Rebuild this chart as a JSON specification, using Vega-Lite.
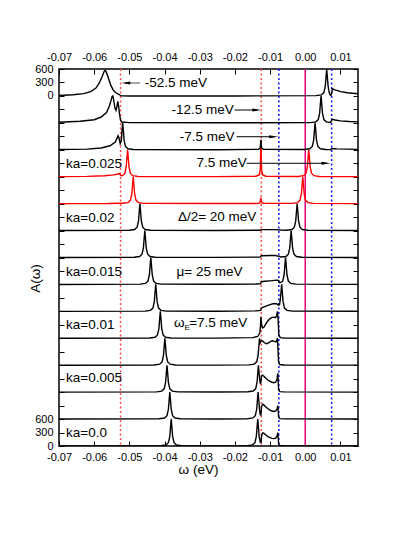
{
  "$schema": "https://vega.github.io/schema/vega-lite/v6.json",
  "width": 299,
  "height": 377,
  "autosize": {"type": "none"},
  "padding": {"left": 59, "top": 69, "right": 57, "bottom": 108},
  "config": {
    "font": "Liberation Sans",
    "view": {"stroke": "black", "strokeWidth": 1.5},
    "axis": {"grid": false, "domain": false, "tickColor": "black", "tickWidth": 1, "labelColor": "black", "labelFont": "Liberation Sans", "labelFontSize": 11, "labelOverlap": false, "labelFlush": false, "titleFont": "Liberation Sans", "titleFontSize": 13.5, "titleFontWeight": "normal", "titleColor": "black"}
  },
  "datasets": {
    "curves": [
      {"k":0,"x":-0.07,"y":0},
      {"k":0,"x":-0.0411,"y":6},{"k":0,"x":-0.0396,"y":23},{"k":0,"x":-0.0389,"y":74},{"k":0,"x":-0.0385,"y":216},{"k":0,"x":-0.0383,"y":415},{"k":0,"x":-0.0381,"y":600},{"k":0,"x":-0.0379,"y":415},{"k":0,"x":-0.0377,"y":216},{"k":0,"x":-0.0373,"y":74},{"k":0,"x":-0.0366,"y":23},{"k":0,"x":-0.0351,"y":6},
      {"k":0,"x":-0.025,"y":2},
      {"k":0,"x":-0.0165,"y":8},{"k":0,"x":-0.015,"y":25},{"k":0,"x":-0.0143,"y":74},{"k":0,"x":-0.0139,"y":216},{"k":0,"x":-0.0137,"y":415},{"k":0,"x":-0.0135,"y":600},{"k":0,"x":-0.0133,"y":415},{"k":0,"x":-0.0131,"y":216},{"k":0,"x":-0.0128,"y":90},
      {"k":0,"x":-0.01255,"y":80},{"k":0,"x":-0.0124,"y":230},{"k":0,"x":-0.0121,"y":290},{"k":0,"x":-0.0117,"y":280},{"k":0,"x":-0.0112,"y":245},{"k":0,"x":-0.0106,"y":210},{"k":0,"x":-0.01,"y":185},{"k":0,"x":-0.0094,"y":170},{"k":0,"x":-0.0089,"y":165},{"k":0,"x":-0.0084,"y":175},{"k":0,"x":-0.008,"y":220},{"k":0,"x":-0.0078,"y":300},{"k":0,"x":-0.0077,"y":200},{"k":0,"x":-0.00755,"y":40},{"k":0,"x":-0.0072,"y":10},{"k":0,"x":-0.006,"y":4},{"k":0,"x":0.015,"y":1},

      {"k":1,"x":-0.07,"y":600},
      {"k":1,"x":-0.0415,"y":606},{"k":1,"x":-0.04,"y":623},{"k":1,"x":-0.0393,"y":674},{"k":1,"x":-0.0389,"y":816},{"k":1,"x":-0.0387,"y":1015},{"k":1,"x":-0.0385,"y":1200},{"k":1,"x":-0.0383,"y":1015},{"k":1,"x":-0.0381,"y":816},{"k":1,"x":-0.0377,"y":674},{"k":1,"x":-0.037,"y":623},{"k":1,"x":-0.0355,"y":606},
      {"k":1,"x":-0.025,"y":602},
      {"k":1,"x":-0.0164,"y":608},{"k":1,"x":-0.0149,"y":625},{"k":1,"x":-0.0142,"y":674},{"k":1,"x":-0.0138,"y":816},{"k":1,"x":-0.0136,"y":1015},{"k":1,"x":-0.0134,"y":1200},{"k":1,"x":-0.0132,"y":1015},{"k":1,"x":-0.013,"y":816},{"k":1,"x":-0.0128,"y":700},
      {"k":1,"x":-0.0126,"y":690},{"k":1,"x":-0.0124,"y":880},{"k":1,"x":-0.0121,"y":930},{"k":1,"x":-0.0117,"y":910},{"k":1,"x":-0.0112,"y":870},{"k":1,"x":-0.0106,"y":830},{"k":1,"x":-0.01,"y":800},{"k":1,"x":-0.0094,"y":780},{"k":1,"x":-0.0089,"y":770},{"k":1,"x":-0.0084,"y":780},{"k":1,"x":-0.008,"y":830},{"k":1,"x":-0.0078,"y":900},{"k":1,"x":-0.0077,"y":800},{"k":1,"x":-0.00755,"y":640},{"k":1,"x":-0.0072,"y":610},{"k":1,"x":-0.006,"y":604},{"k":1,"x":0.015,"y":601},

      {"k":2,"x":-0.07,"y":1200},
      {"k":2,"x":-0.0423,"y":1206},{"k":2,"x":-0.0408,"y":1223},{"k":2,"x":-0.0401,"y":1274},{"k":2,"x":-0.0397,"y":1416},{"k":2,"x":-0.0395,"y":1615},{"k":2,"x":-0.0393,"y":1800},{"k":2,"x":-0.0391,"y":1615},{"k":2,"x":-0.0389,"y":1416},{"k":2,"x":-0.0385,"y":1274},{"k":2,"x":-0.0378,"y":1223},{"k":2,"x":-0.0363,"y":1206},
      {"k":2,"x":-0.025,"y":1202},
      {"k":2,"x":-0.0163,"y":1208},{"k":2,"x":-0.0148,"y":1225},{"k":2,"x":-0.0141,"y":1274},{"k":2,"x":-0.0137,"y":1416},{"k":2,"x":-0.0135,"y":1615},{"k":2,"x":-0.0133,"y":1800},{"k":2,"x":-0.0131,"y":1615},{"k":2,"x":-0.0129,"y":1450},{"k":2,"x":-0.0127,"y":1380},
      {"k":2,"x":-0.0124,"y":1560},{"k":2,"x":-0.0122,"y":1580},{"k":2,"x":-0.0118,"y":1560},{"k":2,"x":-0.0112,"y":1510},{"k":2,"x":-0.0106,"y":1470},{"k":2,"x":-0.01,"y":1440},{"k":2,"x":-0.0094,"y":1420},{"k":2,"x":-0.0089,"y":1410},{"k":2,"x":-0.0084,"y":1420},{"k":2,"x":-0.008,"y":1490},{"k":2,"x":-0.0078,"y":1620},{"k":2,"x":-0.0077,"y":1450},{"k":2,"x":-0.00755,"y":1250},{"k":2,"x":-0.0072,"y":1212},{"k":2,"x":-0.006,"y":1205},{"k":2,"x":0.015,"y":1201},

      {"k":3,"x":-0.07,"y":1800},
      {"k":3,"x":-0.0429,"y":1806},{"k":3,"x":-0.0414,"y":1823},{"k":3,"x":-0.0407,"y":1874},{"k":3,"x":-0.0403,"y":2016},{"k":3,"x":-0.0401,"y":2215},{"k":3,"x":-0.0399,"y":2400},{"k":3,"x":-0.0397,"y":2215},{"k":3,"x":-0.0395,"y":2016},{"k":3,"x":-0.0391,"y":1874},{"k":3,"x":-0.0384,"y":1823},{"k":3,"x":-0.0369,"y":1806},
      {"k":3,"x":-0.025,"y":1803},
      {"k":3,"x":-0.016,"y":1808},{"k":3,"x":-0.0145,"y":1825},{"k":3,"x":-0.0138,"y":1874},{"k":3,"x":-0.0134,"y":2016},{"k":3,"x":-0.0132,"y":2215},{"k":3,"x":-0.013,"y":2400},{"k":3,"x":-0.0128,"y":2300},{"k":3,"x":-0.0125,"y":2340},{"k":3,"x":-0.0121,"y":2340},{"k":3,"x":-0.0116,"y":2300},{"k":3,"x":-0.011,"y":2280},{"k":3,"x":-0.0104,"y":2300},{"k":3,"x":-0.0098,"y":2330},{"k":3,"x":-0.0093,"y":2345},{"k":3,"x":-0.0088,"y":2330},{"k":3,"x":-0.0083,"y":2320},{"k":3,"x":-0.008,"y":2380},{"k":3,"x":-0.0079,"y":2400},{"k":3,"x":-0.0078,"y":2250},{"k":3,"x":-0.0076,"y":1900},{"k":3,"x":-0.0073,"y":1815},{"k":3,"x":-0.006,"y":1806},{"k":3,"x":0.015,"y":1802},

      {"k":4,"x":-0.07,"y":2400},
      {"k":4,"x":-0.0442,"y":2406},{"k":4,"x":-0.0427,"y":2423},{"k":4,"x":-0.042,"y":2474},{"k":4,"x":-0.0416,"y":2616},{"k":4,"x":-0.0414,"y":2815},{"k":4,"x":-0.0412,"y":3000},{"k":4,"x":-0.041,"y":2815},{"k":4,"x":-0.0408,"y":2616},{"k":4,"x":-0.0404,"y":2474},{"k":4,"x":-0.0397,"y":2423},{"k":4,"x":-0.0382,"y":2406},
      {"k":4,"x":-0.025,"y":2403},
      {"k":4,"x":-0.015,"y":2415},{"k":4,"x":-0.0135,"y":2440},{"k":4,"x":-0.0129,"y":2520},{"k":4,"x":-0.0127,"y":2700},{"k":4,"x":-0.0126,"y":2880},{"k":4,"x":-0.0124,"y":2700},{"k":4,"x":-0.0121,"y":2630},{"k":4,"x":-0.0117,"y":2650},{"k":4,"x":-0.0112,"y":2720},{"k":4,"x":-0.0106,"y":2790},{"k":4,"x":-0.01,"y":2840},{"k":4,"x":-0.0094,"y":2865},{"k":4,"x":-0.0089,"y":2870},{"k":4,"x":-0.0085,"y":2860},{"k":4,"x":-0.0081,"y":2900},{"k":4,"x":-0.0079,"y":3000},{"k":4,"x":-0.0077,"y":2800},{"k":4,"x":-0.0075,"y":2480},{"k":4,"x":-0.0071,"y":2415},{"k":4,"x":-0.006,"y":2407},{"k":4,"x":0.015,"y":2402},

      {"k":5,"x":-0.07,"y":3000},
      {"k":5,"x":-0.0455,"y":3006},{"k":5,"x":-0.044,"y":3023},{"k":5,"x":-0.0433,"y":3074},{"k":5,"x":-0.0429,"y":3216},{"k":5,"x":-0.0427,"y":3415},{"k":5,"x":-0.0425,"y":3600},{"k":5,"x":-0.0423,"y":3415},{"k":5,"x":-0.0421,"y":3216},{"k":5,"x":-0.0417,"y":3074},{"k":5,"x":-0.041,"y":3023},{"k":5,"x":-0.0395,"y":3006},
      {"k":5,"x":-0.025,"y":3003},
      {"k":5,"x":-0.014,"y":3010},{"k":5,"x":-0.0127,"y":3020},{"k":5,"x":-0.0125,"y":3070},{"k":5,"x":-0.012,"y":3090},{"k":5,"x":-0.011,"y":3120},{"k":5,"x":-0.01,"y":3150},{"k":5,"x":-0.0092,"y":3170},{"k":5,"x":-0.0087,"y":3175},{"k":5,"x":-0.008,"y":3165},{"k":5,"x":-0.0076,"y":3140},{"k":5,"x":-0.0073,"y":3150},{"k":5,"x":-0.0071,"y":3260},{"k":5,"x":-0.0069,"y":3415},{"k":5,"x":-0.0067,"y":3600},{"k":5,"x":-0.0065,"y":3415},{"k":5,"x":-0.0063,"y":3216},{"k":5,"x":-0.0059,"y":3074},{"k":5,"x":-0.0052,"y":3023},{"k":5,"x":-0.0037,"y":3006},{"k":5,"x":0.015,"y":3001},

      {"k":6,"x":-0.07,"y":3600},
      {"k":6,"x":-0.0469,"y":3606},{"k":6,"x":-0.0454,"y":3623},{"k":6,"x":-0.0447,"y":3674},{"k":6,"x":-0.0443,"y":3816},{"k":6,"x":-0.0441,"y":4015},{"k":6,"x":-0.0439,"y":4200},{"k":6,"x":-0.0437,"y":4015},{"k":6,"x":-0.0435,"y":3816},{"k":6,"x":-0.0431,"y":3674},{"k":6,"x":-0.0424,"y":3623},{"k":6,"x":-0.0409,"y":3606},
      {"k":6,"x":-0.025,"y":3603},
      {"k":6,"x":-0.014,"y":3608},{"k":6,"x":-0.0127,"y":3615},{"k":6,"x":-0.0125,"y":3660},{"k":6,"x":-0.0115,"y":3670},{"k":6,"x":-0.01,"y":3680},{"k":6,"x":-0.0088,"y":3690},{"k":6,"x":-0.008,"y":3695},{"k":6,"x":-0.0076,"y":3685},{"k":6,"x":-0.0073,"y":3640},{"k":6,"x":-0.0068,"y":3650},{"k":6,"x":-0.0064,"y":3674},{"k":6,"x":-0.006,"y":3816},{"k":6,"x":-0.0058,"y":4015},{"k":6,"x":-0.0056,"y":4200},{"k":6,"x":-0.0054,"y":4015},{"k":6,"x":-0.0052,"y":3816},{"k":6,"x":-0.0048,"y":3674},{"k":6,"x":-0.0041,"y":3623},{"k":6,"x":-0.0026,"y":3606},{"k":6,"x":0.015,"y":3601},

      {"k":7,"x":-0.07,"y":4200},
      {"k":7,"x":-0.0486,"y":4206},{"k":7,"x":-0.0471,"y":4223},{"k":7,"x":-0.0464,"y":4274},{"k":7,"x":-0.046,"y":4416},{"k":7,"x":-0.0458,"y":4615},{"k":7,"x":-0.0456,"y":4800},{"k":7,"x":-0.0454,"y":4615},{"k":7,"x":-0.0452,"y":4416},{"k":7,"x":-0.0448,"y":4274},{"k":7,"x":-0.0441,"y":4223},{"k":7,"x":-0.0426,"y":4206},
      {"k":7,"x":-0.025,"y":4203},
      {"k":7,"x":-0.0127,"y":4210},{"k":7,"x":-0.0125,"y":4240},{"k":7,"x":-0.01,"y":4245},{"k":7,"x":-0.0085,"y":4245},{"k":7,"x":-0.0075,"y":4225},{"k":7,"x":-0.007,"y":4212},{"k":7,"x":-0.0055,"y":4223},{"k":7,"x":-0.0048,"y":4274},{"k":7,"x":-0.0044,"y":4416},{"k":7,"x":-0.0042,"y":4615},{"k":7,"x":-0.004,"y":4800},{"k":7,"x":-0.0038,"y":4615},{"k":7,"x":-0.0036,"y":4416},{"k":7,"x":-0.0032,"y":4274},{"k":7,"x":-0.0025,"y":4223},{"k":7,"x":-0.001,"y":4206},{"k":7,"x":0.015,"y":4201},

      {"k":8,"x":-0.07,"y":4800},
      {"k":8,"x":-0.05,"y":4806},{"k":8,"x":-0.0485,"y":4823},{"k":8,"x":-0.0478,"y":4874},{"k":8,"x":-0.0474,"y":5016},{"k":8,"x":-0.0472,"y":5215},{"k":8,"x":-0.047,"y":5400},{"k":8,"x":-0.0468,"y":5215},{"k":8,"x":-0.0466,"y":5016},{"k":8,"x":-0.0462,"y":4874},{"k":8,"x":-0.0455,"y":4823},{"k":8,"x":-0.044,"y":4806},
      {"k":8,"x":-0.025,"y":4803},
      {"k":8,"x":-0.0127,"y":4806},{"k":8,"x":-0.0125,"y":4820},{"k":8,"x":-0.0085,"y":4822},{"k":8,"x":-0.007,"y":4812},{"k":8,"x":-0.0053,"y":4806},{"k":8,"x":-0.0038,"y":4823},{"k":8,"x":-0.0031,"y":4874},{"k":8,"x":-0.0027,"y":5016},{"k":8,"x":-0.0025,"y":5215},{"k":8,"x":-0.0023,"y":5400},{"k":8,"x":-0.0021,"y":5215},{"k":8,"x":-0.0019,"y":5016},{"k":8,"x":-0.0015,"y":4874},{"k":8,"x":-0.0008,"y":4823},{"k":8,"x":0.0007,"y":4806},{"k":8,"x":0.015,"y":4801},

      {"k":9,"x":-0.07,"y":5400},
      {"k":9,"x":-0.056,"y":5403},{"k":9,"x":-0.053,"y":5410},
      {"k":9,"x":-0.0519,"y":5408},{"k":9,"x":-0.0504,"y":5423},{"k":9,"x":-0.0497,"y":5474},{"k":9,"x":-0.0493,"y":5616},{"k":9,"x":-0.0491,"y":5815},{"k":9,"x":-0.0489,"y":6000},{"k":9,"x":-0.0487,"y":5815},{"k":9,"x":-0.0485,"y":5616},{"k":9,"x":-0.0481,"y":5474},{"k":9,"x":-0.0474,"y":5423},{"k":9,"x":-0.0459,"y":5406},
      {"k":9,"x":-0.025,"y":5402},
      {"k":9,"x":-0.0132,"y":5405},{"k":9,"x":-0.0129,"y":5416},{"k":9,"x":-0.0127,"y":5490},{"k":9,"x":-0.0126,"y":5530},{"k":9,"x":-0.0125,"y":5490},{"k":9,"x":-0.0123,"y":5416},{"k":9,"x":-0.0118,"y":5405},
      {"k":9,"x":-0.0037,"y":5406},{"k":9,"x":-0.0022,"y":5423},{"k":9,"x":-0.0015,"y":5474},{"k":9,"x":-0.0011,"y":5616},{"k":9,"x":-0.0009,"y":5815},{"k":9,"x":-0.0007,"y":6000},{"k":9,"x":-0.0005,"y":5815},{"k":9,"x":-0.0003,"y":5616},{"k":9,"x":0.0001,"y":5474},{"k":9,"x":0.0008,"y":5423},{"k":9,"x":0.0023,"y":5406},{"k":9,"x":0.015,"y":5401},

      {"k":10,"x":-0.07,"y":6003},{"k":10,"x":-0.062,"y":6008},{"k":10,"x":-0.057,"y":6020},{"k":10,"x":-0.0545,"y":6040},{"k":10,"x":-0.0532,"y":6060},{"k":10,"x":-0.0528,"y":6075},{"k":10,"x":-0.0525,"y":6030},
      {"k":10,"x":-0.052,"y":6023},{"k":10,"x":-0.0513,"y":6074},{"k":10,"x":-0.0509,"y":6216},{"k":10,"x":-0.0507,"y":6415},{"k":10,"x":-0.0505,"y":6600},{"k":10,"x":-0.0503,"y":6415},{"k":10,"x":-0.0501,"y":6216},{"k":10,"x":-0.0497,"y":6074},{"k":10,"x":-0.049,"y":6023},{"k":10,"x":-0.0475,"y":6006},
      {"k":10,"x":-0.025,"y":6002},
      {"k":10,"x":-0.014,"y":6010},{"k":10,"x":-0.0131,"y":6040},{"k":10,"x":-0.0128,"y":6150},{"k":10,"x":-0.0127,"y":6400},{"k":10,"x":-0.0126,"y":6820},{"k":10,"x":-0.0125,"y":6400},{"k":10,"x":-0.0124,"y":6150},{"k":10,"x":-0.0121,"y":6040},{"k":10,"x":-0.0112,"y":6010},
      {"k":10,"x":-0.002,"y":6006},{"k":10,"x":-0.0005,"y":6023},{"k":10,"x":0.0002,"y":6074},{"k":10,"x":0.0006,"y":6216},{"k":10,"x":0.0008,"y":6415},{"k":10,"x":0.001,"y":6600},{"k":10,"x":0.0012,"y":6415},{"k":10,"x":0.0014,"y":6216},{"k":10,"x":0.0018,"y":6074},{"k":10,"x":0.0025,"y":6023},{"k":10,"x":0.004,"y":6006},{"k":10,"x":0.015,"y":6002},

      {"k":11,"x":-0.07,"y":6605},{"k":11,"x":-0.062,"y":6615},{"k":11,"x":-0.058,"y":6640},{"k":11,"x":-0.0555,"y":6690},{"k":11,"x":-0.054,"y":6770},{"k":11,"x":-0.0535,"y":6860},{"k":11,"x":-0.0532,"y":6910},{"k":11,"x":-0.0529,"y":6850},{"k":11,"x":-0.0526,"y":6740},{"k":11,"x":-0.0523,"y":6800},{"k":11,"x":-0.0521,"y":7015},{"k":11,"x":-0.0519,"y":7200},{"k":11,"x":-0.0517,"y":7015},{"k":11,"x":-0.0515,"y":6816},{"k":11,"x":-0.0511,"y":6674},{"k":11,"x":-0.0504,"y":6623},{"k":11,"x":-0.0489,"y":6606},
      {"k":11,"x":-0.025,"y":6602},
      {"k":11,"x":-0.0133,"y":6610},{"k":11,"x":-0.0128,"y":6640},{"k":11,"x":-0.0127,"y":6720},{"k":11,"x":-0.0126,"y":6820},{"k":11,"x":-0.0125,"y":6720},{"k":11,"x":-0.0124,"y":6640},{"k":11,"x":-0.0119,"y":6610},
      {"k":11,"x":-0.0002,"y":6606},{"k":11,"x":0.0013,"y":6623},{"k":11,"x":0.002,"y":6674},{"k":11,"x":0.0024,"y":6816},{"k":11,"x":0.0026,"y":7015},{"k":11,"x":0.0028,"y":7200},{"k":11,"x":0.003,"y":7015},{"k":11,"x":0.0032,"y":6816},{"k":11,"x":0.0036,"y":6674},{"k":11,"x":0.0043,"y":6623},{"k":11,"x":0.0058,"y":6606},{"k":11,"x":0.0072,"y":6604},{"k":11,"x":0.0075,"y":6630},{"k":11,"x":0.009,"y":6620},{"k":11,"x":0.015,"y":6610},

      {"k":12,"x":-0.07,"y":7215},{"k":12,"x":-0.064,"y":7235},{"k":12,"x":-0.06,"y":7270},{"k":12,"x":-0.058,"y":7330},{"k":12,"x":-0.0565,"y":7430},{"k":12,"x":-0.0557,"y":7570},{"k":12,"x":-0.0552,"y":7700},{"k":12,"x":-0.0549,"y":7790},{"k":12,"x":-0.0547,"y":7800},{"k":12,"x":-0.0545,"y":7730},{"k":12,"x":-0.0541,"y":7530},{"k":12,"x":-0.0538,"y":7480},{"k":12,"x":-0.0535,"y":7580},{"k":12,"x":-0.0533,"y":7680},{"k":12,"x":-0.0531,"y":7600},{"k":12,"x":-0.0528,"y":7400},{"k":12,"x":-0.0525,"y":7260},{"k":12,"x":-0.0522,"y":7220},{"k":12,"x":-0.05,"y":7205},
      {"k":12,"x":-0.025,"y":7202},
      {"k":12,"x":0.0015,"y":7206},{"k":12,"x":0.003,"y":7223},{"k":12,"x":0.0037,"y":7274},{"k":12,"x":0.0041,"y":7416},{"k":12,"x":0.0043,"y":7615},{"k":12,"x":0.0045,"y":7800},{"k":12,"x":0.0047,"y":7615},{"k":12,"x":0.0049,"y":7416},{"k":12,"x":0.0053,"y":7274},{"k":12,"x":0.006,"y":7223},{"k":12,"x":0.0068,"y":7212},{"k":12,"x":0.0072,"y":7210},{"k":12,"x":0.0074,"y":7240},{"k":12,"x":0.0076,"y":7280},{"k":12,"x":0.0085,"y":7265},{"k":12,"x":0.01,"y":7245},{"k":12,"x":0.0125,"y":7230},{"k":12,"x":0.015,"y":7222},

      {"k":13,"x":-0.07,"y":7810},{"k":13,"x":-0.066,"y":7825},{"k":13,"x":-0.063,"y":7850},{"k":13,"x":-0.061,"y":7895},{"k":13,"x":-0.0595,"y":7975},{"k":13,"x":-0.0585,"y":8095},{"k":13,"x":-0.0577,"y":8240},{"k":13,"x":-0.0572,"y":8340},{"k":13,"x":-0.0569,"y":8370},{"k":13,"x":-0.0566,"y":8340},{"k":13,"x":-0.056,"y":8210},{"k":13,"x":-0.0553,"y":8040},{"k":13,"x":-0.0545,"y":7920},{"k":13,"x":-0.0537,"y":7865},{"k":13,"x":-0.053,"y":7835},{"k":13,"x":-0.0526,"y":7815},{"k":13,"x":-0.0523,"y":7802},{"k":13,"x":-0.05,"y":7800},
      {"k":13,"x":-0.02,"y":7800},
      {"k":13,"x":0.0031,"y":7806},{"k":13,"x":0.0046,"y":7823},{"k":13,"x":0.0053,"y":7874},{"k":13,"x":0.0057,"y":8016},{"k":13,"x":0.0059,"y":8215},{"k":13,"x":0.0061,"y":8400},{"k":13,"x":0.0063,"y":8215},{"k":13,"x":0.0065,"y":8016},{"k":13,"x":0.0068,"y":7880},{"k":13,"x":0.0071,"y":7820},{"k":13,"x":0.0073,"y":7812},{"k":13,"x":0.0075,"y":7850},{"k":13,"x":0.0077,"y":7960},{"k":13,"x":0.0085,"y":7935},{"k":13,"x":0.01,"y":7895},{"k":13,"x":0.012,"y":7870},{"k":13,"x":0.015,"y":7850}
    ],
    "refs": [
      {"x": -0.0525, "s": "red"},
      {"x": -0.0125, "s": "red"},
      {"x": -0.0075, "s": "blue"},
      {"x": 0.0075, "s": "blue"},
      {"x": 0.0, "s": "mag"}
    ],
    "labels": [
      {"x": -0.0456, "y": 8088, "t": "-52.5 meV"},
      {"x": -0.0380, "y": 7486, "t": "-12.5 meV"},
      {"x": -0.0357, "y": 6891, "t": "-7.5 meV"},
      {"x": -0.0309, "y": 6299, "t": "7.5 meV"},
      {"x": -0.0362, "y": 5095, "t": "Δ/2= 20 meV"},
      {"x": -0.0366, "y": 3883, "t": "μ= 25 meV"},
      {"x": -0.0373, "y": 2734, "t": "ω"},
      {"x": -0.0330, "y": 2734, "t": "=7.5 meV"},
      {"x": -0.0680, "y": 6283, "t": "ka=0.025"},
      {"x": -0.0680, "y": 5080, "t": "ka=0.02"},
      {"x": -0.0680, "y": 3883, "t": "ka=0.015"},
      {"x": -0.0680, "y": 2696, "t": "ka=0.01"},
      {"x": -0.0680, "y": 1515, "t": "ka=0.005"},
      {"x": -0.0680, "y": 296, "t": "ka=0.0"}
    ],
    "arrows": [
      {"x1": -0.0470, "x2": -0.0512, "y": 8088, "c": "g"},
      {"x1": -0.0201, "x2": -0.0136, "y": 7486, "c": "k"},
      {"x1": -0.0195, "x2": -0.0088, "y": 6891, "c": "k"},
      {"x1": -0.0167, "x2": 0.0061, "y": 6299, "c": "k"}
    ],
    "heads": [
      {"x": -0.0510, "y": 8088, "d": "l"},
      {"x": -0.0138, "y": 7486, "d": "r"},
      {"x": -0.0090, "y": 6891, "d": "r"},
      {"x": 0.0059, "y": 6299, "d": "r"}
    ]
  },
  "layer": [
    {
      "data": {"name": "refs"},
      "transform": [{"filter": "datum.s == 'red'"}],
      "mark": {"type": "rule", "strokeWidth": 1.5, "strokeDash": [2, 2.5], "color": "#ff4a4a"},
      "encoding": {
        "x": {"field": "x", "type": "quantitative", "scale": {"domain": [-0.07, 0.015], "nice": false, "zero": false}, "axis": null}
      }
    },
    {
      "data": {"name": "refs"},
      "transform": [{"filter": "datum.s == 'blue'"}],
      "mark": {"type": "rule", "strokeWidth": 1.5, "strokeDash": [2, 2.5], "color": "#1010ff"},
      "encoding": {
        "x": {"field": "x", "type": "quantitative", "axis": null}
      }
    },
    {
      "data": {"name": "refs"},
      "transform": [{"filter": "datum.s == 'mag'"}],
      "mark": {"type": "rule", "strokeWidth": 1.5, "color": "#e4007c"},
      "encoding": {
        "x": {"field": "x", "type": "quantitative", "axis": null}
      }
    },
    {
      "data": {"name": "curves"},
      "mark": {"type": "line", "strokeWidth": 1.4, "clip": true},
      "encoding": {
        "x": {"field": "x", "type": "quantitative", "scale": {"domain": [-0.07, 0.015], "nice": false, "zero": false},
              "axis": {"orient": "bottom", "values": [-0.07, -0.06, -0.05, -0.04, -0.03, -0.02, -0.01, 0, 0.01], "labelExpr": "replace(format(datum.value, '.2f'), '\u2212', '-')", "tickSize": -5, "labelPadding": 10.5, "labelDx": 3, "title": "ω (eV)", "titlePadding": 0, "titleX": 139}},
        "y": {"field": "y", "type": "quantitative", "scale": {"domain": [0, 8400], "nice": false, "zero": false},
              "axis": {"orient": "left", "values": [0,300,600,900,1200,1500,1800,2100,2400,2700,3000,3300,3600,3900,4200,4500,4800,5100,5400,5700,6000,6300,6600,6900,7200,7500,7800,8100,8400], "labelExpr": "datum.value <= 600 ? format(datum.value, 'd') : (datum.value >= 7800 ? format(datum.value - 7800, 'd') : '')", "tickSize": -5, "labelPadding": 11, "title": "A(ω)", "titleX": -17, "titleY": 209}},
        "color": {"field": "k", "type": "ordinal", "scale": {"domain": [0,1,2,3,4,5,6,7,8,9,10,11,12,13], "range": ["#000000","#000000","#000000","#000000","#000000","#000000","#000000","#000000","#000000","#ff0000","#ff0000","#000000","#000000","#000000"]}, "legend": null}
      }
    },
    {
      "data": {"name": "arrows"},
      "transform": [{"filter": "datum.c == 'k'"}],
      "mark": {"type": "rule", "strokeWidth": 1, "color": "black"},
      "encoding": {
        "x": {"field": "x1", "type": "quantitative", "axis": null},
        "x2": {"field": "x2"},
        "y": {"field": "y", "type": "quantitative", "axis": null}
      }
    },
    {
      "data": {"name": "arrows"},
      "transform": [{"filter": "datum.c == 'g'"}],
      "mark": {"type": "rule", "strokeWidth": 1.5, "color": "#8a8a8a"},
      "encoding": {
        "x": {"field": "x1", "type": "quantitative", "axis": null},
        "x2": {"field": "x2"},
        "y": {"field": "y", "type": "quantitative", "axis": null}
      }
    },
    {
      "data": {"name": "heads"},
      "mark": {"type": "point", "filled": true, "color": "black", "size": 80, "opacity": 1},
      "encoding": {
        "x": {"field": "x", "type": "quantitative", "axis": null},
        "y": {"field": "y", "type": "quantitative", "axis": null},
        "shape": {"field": "d", "type": "nominal", "scale": {"domain": ["l", "r"], "range": ["M1,-0.35L-1,0L1,0.35Z", "M-1,-0.35L1,0L-1,0.35Z"]}, "legend": null}
      }
    },
    {
      "data": {"name": "labels"},
      "mark": {"type": "text", "align": "left", "baseline": "middle", "fontSize": 13.5, "color": "black"},
      "encoding": {
        "x": {"field": "x", "type": "quantitative",
              "axis": {"orient": "top", "values": [-0.07, -0.06, -0.05, -0.04, -0.03, -0.02, -0.01, 0, 0.01], "labelExpr": "replace(format(datum.value, '.2f'), '\u2212', '-')", "tickSize": -5, "labelPadding": 12, "title": null}},
        "y": {"field": "y", "type": "quantitative",
              "axis": {"orient": "right", "values": [0,300,600,900,1200,1500,1800,2100,2400,2700,3000,3300,3600,3900,4200,4500,4800,5100,5400,5700,6000,6300,6600,6900,7200,7500,7800,8100,8400], "labels": false, "tickSize": -5, "title": null}},
        "text": {"field": "t"}
      }
    },
    {
      "data": {"values": [{"x": -0.0343, "y": 2620, "t": "E"}]},
      "mark": {"type": "text", "align": "left", "baseline": "middle", "fontSize": 8, "color": "black"},
      "encoding": {
        "x": {"field": "x", "type": "quantitative", "axis": null},
        "y": {"field": "y", "type": "quantitative", "axis": null},
        "text": {"field": "t"}
      }
    }
  ]
}
